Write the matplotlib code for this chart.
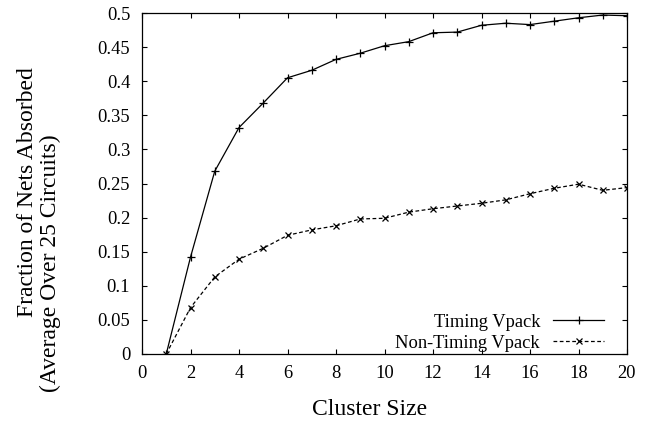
import numpy as np
import matplotlib
matplotlib.use("Agg")
import matplotlib.pyplot as plt

plt.rcParams['font.family'] = ['Liberation Serif', 'DejaVu Serif']

cluster_size = [1, 2, 3, 4, 5, 6, 7, 8, 9, 10, 11, 12, 13, 14, 15, 16, 17, 18, 19, 20]

timing = [0.0, 0.142, 0.268, 0.332, 0.368, 0.405, 0.416, 0.432, 0.441, 0.452,
          0.458, 0.471, 0.472, 0.482, 0.485, 0.483, 0.488, 0.493, 0.497, 0.496]

non_timing = [0.0, 0.068, 0.113, 0.139, 0.155, 0.174, 0.182, 0.188, 0.198, 0.199,
              0.208, 0.213, 0.217, 0.221, 0.226, 0.235, 0.243, 0.249, 0.240, 0.244]

W, H = 647, 425
fig = plt.figure(figsize=(W / 100, H / 100), dpi=100)
# axes box in pixels: left 142, right 627, top 13, bottom 354
ax = fig.add_axes([142 / W, 1 - 354 / H, (627 - 142) / W, (354 - 13) / H])

ax.plot(cluster_size, timing, color='black', lw=0.9, marker='+', ms=5.5, mew=0.9,
        label='Timing Vpack')
ax.plot(cluster_size, non_timing, color='black', lw=0.9, ls=(0, (3, 2)), marker='x',
        ms=4.2, mew=0.9, label='Non-Timing Vpack')

ax.set_xlim(0, 20)
ax.set_ylim(0, 0.5)
ax.set_xticks(np.arange(0, 21, 2))
ax.set_yticks(np.arange(0, 0.501, 0.05))
ax.set_yticklabels(['0', '0.05', '0.1', '0.15', '0.2', '0.25', '0.3', '0.35',
                    '0.4', '0.45', '0.5'])
ax.tick_params(direction='in', top=True, right=True, length=3.5, width=0.8,
               labelsize=13.3)
ax.tick_params(axis='x', pad=8)
ax.tick_params(axis='y', pad=8.5)
for s in ax.spines.values():
    s.set_linewidth(0.9)

fig.text(370 / W, 1 - 415 / H, 'Cluster Size', ha='center', va='baseline', fontsize=17)
fig.text(33 / W, 1 - 192 / H, 'Fraction of Nets Absorbed', ha='center', va='baseline',
         rotation=90, rotation_mode='anchor', fontsize=17)
fig.text(56 / W, 1 - 263 / H, '(Average Over 25 Circuits)', ha='center', va='baseline',
         rotation=90, rotation_mode='anchor', fontsize=17)

leg = ax.legend(loc='lower right', bbox_to_anchor=((604 - 142) / 485, 0.007),
                frameon=False, markerfirst=False, fontsize=13.3, handlelength=2.76,
                handletextpad=0.7, labelspacing=0.2, borderpad=0, borderaxespad=0)
for col in leg._legend_handle_box.get_children():
    col.align = 'right'

fig.savefig('out.png', dpi=100)
